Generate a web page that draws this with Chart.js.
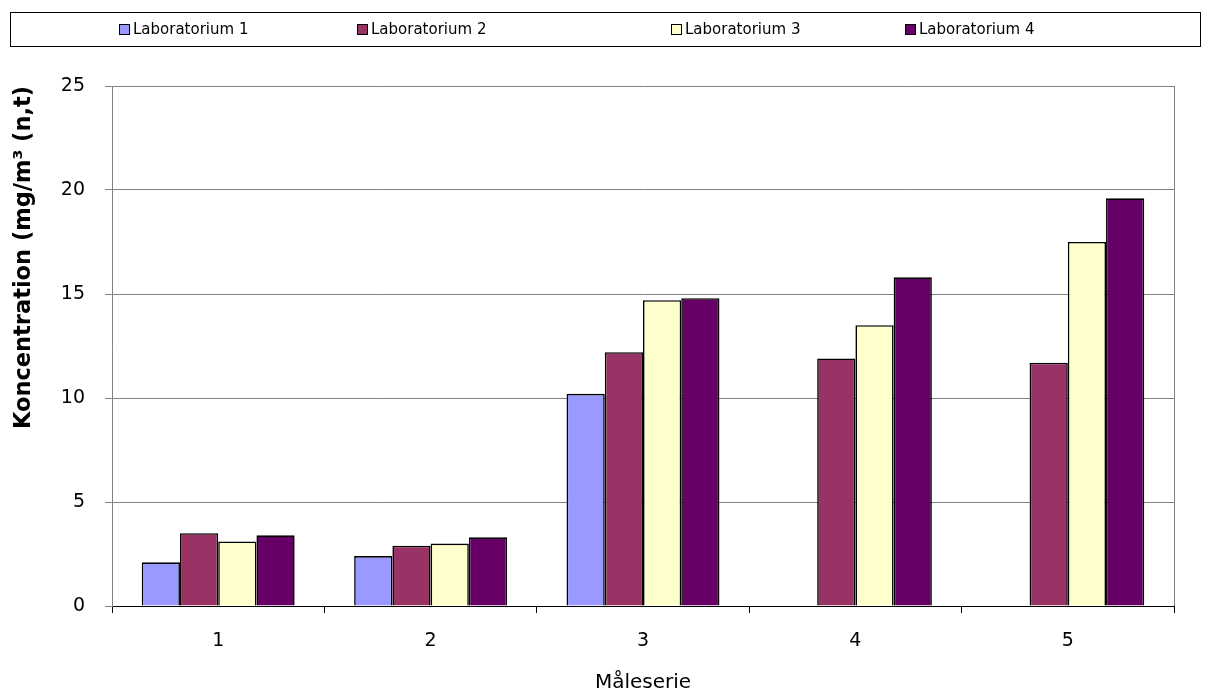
<!DOCTYPE html>
<html lang="da">
<head>
    <meta charset="UTF-8">
    <title>Koncentration pr. måleserie</title>
    <style>
        body {
            margin: 0;
            padding: 0;
            background: #fff;
        }
        .chart-box {
            position: relative;
            width: 1211px;
            height: 693px;
        }
    </style>
</head>
<body>
    <div class="chart-box">
        <canvas id="chart"></canvas>
    </div>

    <script src="https://cdn.jsdelivr.net/npm/chart.js@4/dist/chart.umd.min.js"></script>
    <script>
        // data
        const categories = ['1', '2', '3', '4', '5'];
        const lab1 = [2.1, 2.4, 10.2, null, null];
        const lab2 = [3.5, 2.9, 12.2, 11.9, 11.7];
        const lab3 = [3.1, 3.0, 14.7, 13.5, 17.5];
        const lab4 = [3.4, 3.3, 14.8, 15.8, 19.6];
        const seriesNames = ['Laboratorium 1', 'Laboratorium 2', 'Laboratorium 3', 'Laboratorium 4'];
        const yTicks = [0, 5, 10, 15, 20, 25];

        const colors = ['#9999ff', '#993366', '#ffffcc', '#660066'];
        const fontFamily = '"DejaVu Sans", Verdana, sans-serif';

        // legend is a boxed row like the original, drawn on the canvas
        const legendX = [119, 357, 671, 905];
        const boxedLegend = {
            id: 'boxedLegend',
            afterDraw(chart) {
                const ctx = chart.ctx;
                ctx.save();
                ctx.strokeStyle = '#000';
                ctx.lineWidth = 1;
                ctx.strokeRect(10.5, 12.5, 1190, 34);
                ctx.font = '15px ' + fontFamily;
                ctx.textBaseline = 'middle';
                chart.data.datasets.forEach((ds, i) => {
                    const x = legendX[i];
                    ctx.fillStyle = ds.backgroundColor;
                    ctx.fillRect(x + 0.5, 24.5, 10, 10);
                    ctx.strokeRect(x + 0.5, 24.5, 10, 10);
                    ctx.fillStyle = '#000';
                    ctx.fillText(ds.label, x + 14, 30);
                });
                ctx.restore();
            }
        };

        // gray border on the right of the plot area
        const plotBorder = {
            id: 'plotBorder',
            beforeDatasetsDraw(chart) {
                const a = chart.chartArea;
                const ctx = chart.ctx;
                ctx.save();
                ctx.strokeStyle = '#808080';
                ctx.lineWidth = 1;
                ctx.beginPath();
                ctx.moveTo(Math.round(a.right) + 0.5, a.top);
                ctx.lineTo(Math.round(a.right) + 0.5, a.bottom);
                ctx.stroke();
                ctx.restore();
            }
        };

        const dataSets = [lab1, lab2, lab3, lab4].map((vals, i) => ({
            label: seriesNames[i],
            data: vals,
            backgroundColor: colors[i],
            borderColor: '#000',
            borderWidth: 1.6,
            categoryPercentage: 0.72,
            barPercentage: 1.0
        }));

        new Chart(document.getElementById('chart'), {
            type: 'bar',
            data: { labels: categories, datasets: dataSets },
            options: {
                responsive: true,
                maintainAspectRatio: false,
                animation: false,
                layout: { padding: { top: 86, right: 37, left: 0, bottom: 0 } },
                plugins: {
                    legend: { display: false },
                    tooltip: { enabled: false }
                },
                scales: {
                    x: {
                        grid: {
                            offset: true,
                            drawOnChartArea: false,
                            drawTicks: true,
                            tickLength: 7,
                            tickColor: '#000'
                        },
                        border: { color: '#000', width: 1 },
                        ticks: {
                            color: '#000',
                            padding: 17,
                            font: { family: fontFamily, size: 19 }
                        },
                        title: {
                            display: true,
                            text: 'Måleserie',
                            color: '#000',
                            padding: { top: 0, bottom: 0 },
                            font: { family: fontFamily, size: 20, lineHeight: 1.0 }
                        },
                        afterFit(scale) { scale.height = 87; }
                    },
                    y: {
                        min: 0,
                        max: 25,
                        afterBuildTicks(scale) {
                            scale.ticks = yTicks.map(v => ({ value: v }));
                        },
                        grid: {
                            color: '#808080',
                            tickColor: '#808080',
                            tickLength: 7
                        },
                        border: { color: '#808080', width: 1 },
                        ticks: {
                            color: '#000',
                            padding: 20,
                            font: { family: fontFamily, size: 19 }
                        },
                        title: {
                            display: true,
                            text: 'Koncentration (mg/m³ (n,t)',
                            align: 'end',
                            color: '#000',
                            padding: { top: 12, bottom: 0 },
                            font: { family: fontFamily, size: 22.5, weight: 'bold', lineHeight: 1.1 }
                        },
                        afterFit(scale) { scale.width = 112; }
                    }
                }
            },
            plugins: [boxedLegend, plotBorder]
        });
    </script>
</body>
</html>
